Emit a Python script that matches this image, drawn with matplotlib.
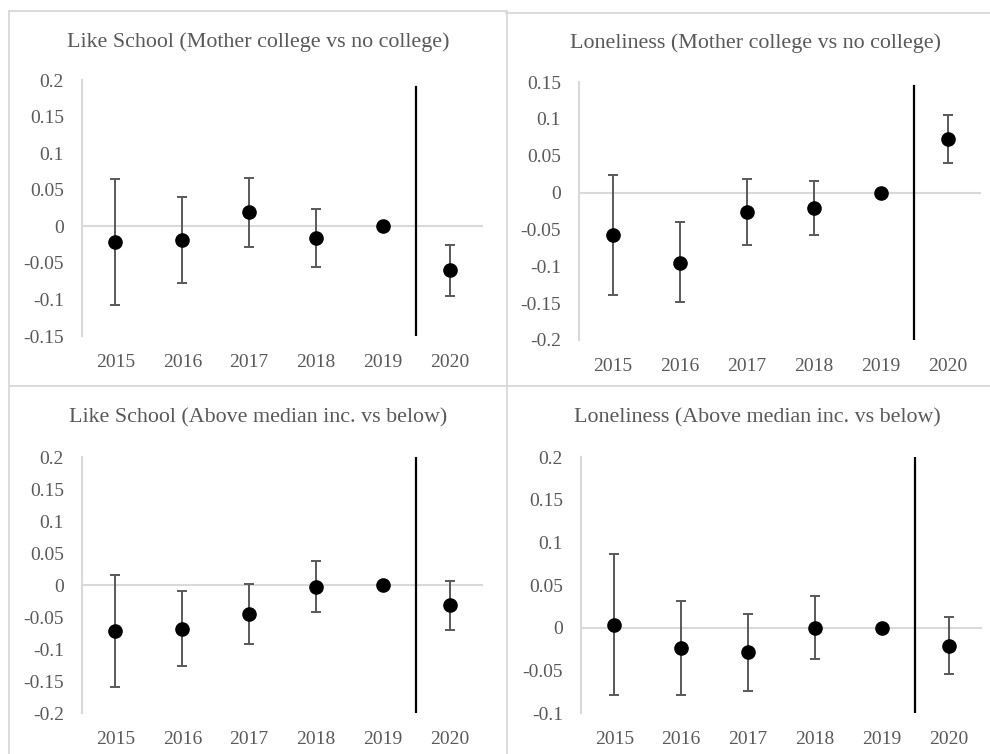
import numpy as np
import matplotlib
matplotlib.use('Agg')
import matplotlib.pyplot as plt
from matplotlib.lines import Line2D
from matplotlib.ticker import FuncFormatter

plt.rcParams.update({'font.family': 'Liberation Serif'})

years = ['2015', '2016', '2017', '2018', '2019', '2020']

# Like School (Mother college vs no college)
ls_mom_est = [-0.021, -0.019, 0.020, -0.016, 0.0, -0.060]
ls_mom_hi = [0.064, 0.040, 0.066, 0.023, 0.0, -0.025]
ls_mom_lo = [-0.108, -0.078, -0.028, -0.055, 0.0, -0.095]

# Loneliness (Mother college vs no college)
lo_mom_est = [-0.057, -0.095, -0.026, -0.021, 0.0, 0.073]
lo_mom_hi = [0.024, -0.040, 0.018, 0.016, 0.0, 0.105]
lo_mom_lo = [-0.139, -0.149, -0.071, -0.057, 0.0, 0.040]

# Like School (Above median inc. vs below)
ls_inc_est = [-0.072, -0.069, -0.045, -0.003, 0.0, -0.032]
ls_inc_hi = [0.016, -0.010, 0.002, 0.037, 0.0, 0.007]
ls_inc_lo = [-0.160, -0.127, -0.092, -0.042, 0.0, -0.071]

# Loneliness (Above median inc. vs below)
lo_inc_est = [0.003, -0.024, -0.028, 0.0, 0.0, -0.021]
lo_inc_hi = [0.086, 0.031, 0.016, 0.037, 0.0, 0.013]
lo_inc_lo = [-0.079, -0.079, -0.074, -0.037, 0.0, -0.054]

titles = ['Like School (Mother college vs no college)',
          'Loneliness (Mother college vs no college)',
          'Like School (Above median inc. vs below)',
          'Loneliness (Above median inc. vs below)']
series = [(ls_mom_est, ls_mom_lo, ls_mom_hi),
          (lo_mom_est, lo_mom_lo, lo_mom_hi),
          (ls_inc_est, ls_inc_lo, ls_inc_hi),
          (lo_inc_est, lo_inc_lo, lo_inc_hi)]
y_ranges = [(-0.15, 0.2), (-0.2, 0.15), (-0.2, 0.2), (-0.1, 0.2)]
divider_top = [0.19, 0.145, 0.199, 0.199]

W, H = 990, 754
GRAY = '#595959'
LIGHT = '#d9d9d9'

# axes boxes in pixels: left, right, top, bottom
boxes = [(82, 483, 80, 336), (579, 981, 82, 340),
         (82, 483, 457, 713), (581, 982, 457, 713)]
title_pos = [(258, 42), (756, 43), (258, 418), (757, 418)]

fig = plt.figure(figsize=(W / 100, H / 100), dpi=100)


def px(x, y):
    return x / W, 1 - y / H


# panel frames
frame_lines = [((9, 11), (9, 754)), ((9, 11), (506, 11)), ((506, 13), (990, 13)),
               ((506.5, 11), (506.5, 754)), ((9, 385.5), (990, 385.5))]
for (x0, y0), (x1, y1) in frame_lines:
    a, b = px(x0, y0)
    c, d = px(x1, y1)
    fig.add_artist(Line2D([a, c], [b, d], color=LIGHT, lw=1.3,
                          transform=fig.transFigure))

fmt = FuncFormatter(lambda v, _: '{:g}'.format(round(v, 3) + 0.0))
x = np.arange(len(years))

for i in range(4):
    l, r, t, b = boxes[i]
    ax = fig.add_axes([l / W, 1 - b / H, (r - l) / W, (b - t) / H])
    est, lo, hi = [np.array(s) for s in series[i]]
    ymin, ymax = y_ranges[i]

    ax.axhline(0, color=LIGHT, lw=1.5, zorder=1)
    ax.errorbar(x, est, yerr=[est - lo, hi - est], fmt='none', ecolor=GRAY,
                elinewidth=1.4, capsize=3.6, capthick=1.4, zorder=2)
    ax.plot(x, est, 'o', color='black', markersize=9.5, zorder=3)
    ax.plot([4.5, 4.5], [ymin, divider_top[i]], color='black', lw=1.6, zorder=2)

    ax.set_xlim(-0.5, 5.5)
    ax.set_ylim(ymin, ymax)
    ax.set_yticks(np.arange(ymin, ymax + 0.001, 0.05))
    ax.yaxis.set_major_formatter(fmt)
    ax.set_xticks(x)
    ax.set_xticklabels(years)
    ax.tick_params(length=0, labelsize=14, labelcolor=GRAY)
    ax.tick_params(axis='y', pad=13)
    ax.tick_params(axis='x', pad=13)
    for s in ['top', 'right', 'bottom']:
        ax.spines[s].set_visible(False)
    ax.spines['left'].set_color(LIGHT)
    ax.spines['left'].set_linewidth(1.5)
    ax.patch.set_alpha(0)

    tx, ty = px(*title_pos[i])
    fig.text(tx, ty, titles[i], ha='center', va='center', fontsize=15.8, color=GRAY)

plt.savefig('out.png', dpi=100)
